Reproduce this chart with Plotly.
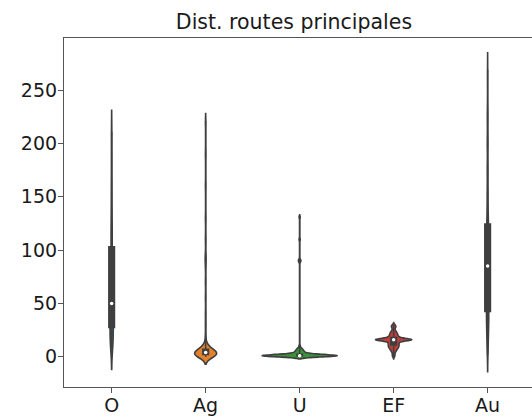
#!/usr/bin/env python3
"""
Violin plot of distance to main roads per category, with Plotly
"""
import numpy as np
import plotly.graph_objects as go

# categories and colours (seaborn default palette, desaturated)
categories = ['O', 'Ag', 'U', 'EF', 'Au']
colors = ['#3274a1', '#e1812c', '#3a923a', '#c03d3e', '#9372b2']

# estimated samples (value -> count)
o_vals = [8, 12, 16, 20, 25, 30, 35, 38, 42, 46, 50, 56, 62, 70, 78, 86, 94,
          100, 106, 115, 125, 140, 160, 185, 211]
o_counts = [5, 5, 5, 5, 5, 5, 6, 6, 4, 3, 5, 4, 3, 3, 3, 3, 3,
            2, 3, 4, 4, 4, 4, 3, 3]

ag_vals = [0, 1, 2, 3, 4, 5, 6, 7, 8, 10, 12, 15, 20, 30, 40, 55, 70, 85,
           90, 92, 95, 110, 130, 160, 190, 221]
ag_counts = [9, 11, 13, 13, 11, 8, 6, 5, 4, 3, 2, 1, 1, 1, 1, 1, 1, 1,
             1, 1, 1, 1, 1, 1, 1, 1]

u_vals = [0, 1, 2, 3, 4, 5, 6, 7, 8, 10, 89, 90, 91, 110, 131]
u_counts = [14, 50, 12, 5, 4, 3, 3, 2, 2, 1, 1, 1, 1, 1, 1]

ef_vals = [0, 1, 2, 3, 4, 5, 6, 7, 8, 9, 10, 11, 12, 13, 14, 15, 16, 17,
           18, 19, 20, 21, 22, 23, 24, 25, 26, 27, 28, 29, 30]
ef_counts = [1, 1, 1, 1, 1, 2, 2, 3, 3, 4, 4, 4, 4, 4, 4, 7, 24, 7,
             4, 4, 3, 3, 3, 2, 2, 1, 1, 1, 2, 2, 1]

au_vals = [2, 10, 18, 25, 31, 36, 40, 45, 50, 55, 60, 66, 72, 78, 82,
           88, 94, 100, 105, 110, 114, 118, 121, 128, 140, 155, 175, 200, 225, 269]
au_counts = [2, 3, 4, 4, 4, 4, 4, 4, 3, 3, 3, 3, 3, 2, 4,
             3, 3, 3, 3, 4, 4, 4, 1, 5, 4, 4, 4, 4, 3, 1]

y_ticks = [0, 50, 100, 150, 200, 250]

samples = {
    'O': np.repeat(o_vals, o_counts).astype(float),
    'Ag': np.repeat(ag_vals, ag_counts).astype(float),
    'U': np.repeat(u_vals, u_counts).astype(float),
    'EF': np.repeat(ef_vals, ef_counts).astype(float),
    'Au': np.repeat(au_vals, au_counts).astype(float),
}
bandwidths = {'O': 10, 'Ag': 3.5, 'U': 1.0, 'EF': 1.0, 'Au': 8}


def kde_peak(vals, bw):
    # peak of the gaussian KDE (same kernel plotly uses)
    grid = np.linspace(vals.min() - 2 * bw, vals.max() + 2 * bw, 3000)
    z = (grid[:, None] - vals[None, :]) / bw
    dens = np.exp(-0.5 * z ** 2).sum(axis=1) / (len(vals) * bw * np.sqrt(2 * np.pi))
    return dens.max()


# seaborn scale="area": every violin has the same area, widest one gets 0.8
peaks = {c: kde_peak(samples[c], bandwidths[c]) for c in categories}
max_peak = max(peaks.values())
violin_width = 0.8
box_width = 0.06

dark = '#3f3f3f'
font = 'DejaVu Sans'

fig = go.Figure()

for cat, col in zip(categories, colors):
    vals = samples[cat]
    fig.add_trace(go.Violin(
        x=[cat] * len(vals),
        y=vals,
        name=cat,
        fillcolor=col,
        line=dict(color=dark, width=1.6),
        bandwidth=bandwidths[cat],
        width=violin_width * peaks[cat] / max_peak,
        scalemode='width',
        spanmode='soft',
        points=False,
        box=dict(visible=False),
        meanline=dict(visible=False),
        opacity=1,
        showlegend=False,
        hoverinfo='skip',
    ))

# inner boxes (IQR bar + whiskers)
for cat in categories:
    vals = samples[cat]
    fig.add_trace(go.Box(
        x=[cat] * len(vals),
        y=vals,
        name=cat,
        width=box_width,
        fillcolor=dark,
        line=dict(color=dark, width=1.5),
        whiskerwidth=0,
        boxpoints=False,
        showlegend=False,
        hoverinfo='skip',
    ))

# white median dots
for cat in categories:
    fig.add_trace(go.Scatter(
        x=[cat],
        y=[float(np.median(samples[cat]))],
        mode='markers',
        marker=dict(color='white', size=3.5),
        showlegend=False,
        hoverinfo='skip',
    ))

fig.update_layout(
    width=532,
    height=419,
    margin=dict(l=64, r=0, t=38, b=32),
    paper_bgcolor='white',
    plot_bgcolor='white',
    violinmode='overlay',
    boxmode='overlay',
    font=dict(family=font, size=19, color='#1a1a1a'),
    title=dict(text='Dist. routes principales', x=294 / 532, xanchor='center',
               xref='container', y=1 - 22 / 419, yanchor='middle',
               yref='container', font=dict(family=font, size=20.5, color='#1a1a1a')),
    showlegend=False,
)

fig.update_xaxes(
    type='category',
    categoryorder='array',
    categoryarray=categories,
    range=[-0.507, 4.472],
    showgrid=False,
    zeroline=False,
    showline=True,
    mirror=True,
    linecolor='#555555',
    linewidth=1.2,
    ticks='outside',
    ticklen=5,
    tickwidth=1.2,
    tickcolor='#555555',
    ticklabelstandoff=-4,
    tickfont=dict(family=font, size=19, color='#1a1a1a'),
)

fig.update_yaxes(
    range=[-28.4, 298.8],
    tickvals=y_ticks,
    showgrid=False,
    zeroline=False,
    showline=True,
    mirror=False,
    linecolor='#555555',
    linewidth=1.2,
    ticks='outside',
    ticklen=5,
    tickwidth=1.2,
    tickcolor='#555555',
    ticklabelstandoff=-3,
    tickfont=dict(family=font, size=19, color='#1a1a1a'),
)

# the page body has a default 8px margin; drop it so the figure sits at 0,0
fig.write_html("out.html", config={'displayModeBar': False},
               post_script="document.body.style.margin='0';")
print("Saved: out.html")
